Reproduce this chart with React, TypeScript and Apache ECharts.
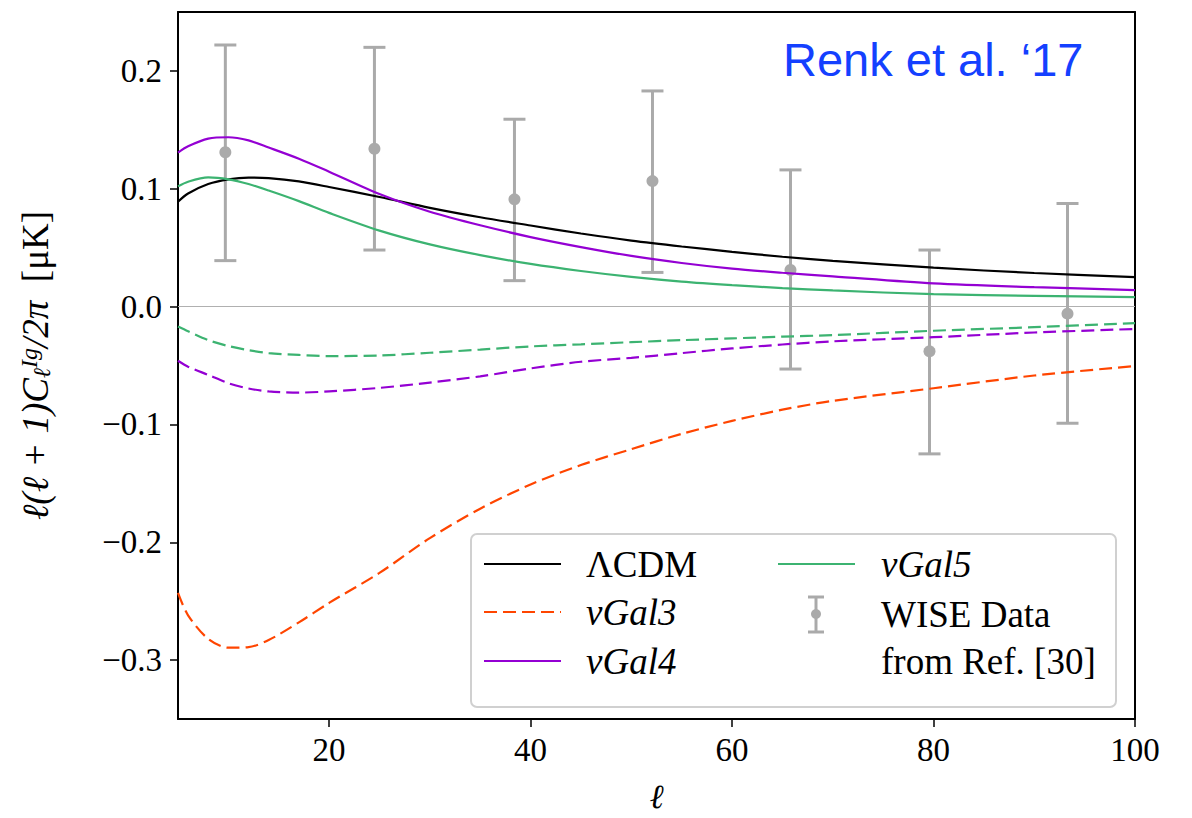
import React, { useEffect, useRef } from "react";
import * as echarts from "echarts";

// multipole grid for the theory curves
const ell = [5, 6, 8, 10, 12, 14, 17, 20, 25, 30, 35, 40, 45, 50, 55, 60, 65, 70, 80, 90, 100];

const lcdm = [0.089, 0.096, 0.104, 0.108, 0.1095, 0.109, 0.1062, 0.1015, 0.093, 0.0838, 0.0758, 0.0688, 0.062, 0.056, 0.051, 0.0465, 0.0423, 0.0388, 0.033, 0.0285, 0.025];
const gal3 = [-0.243, -0.262, -0.282, -0.2895, -0.289, -0.283, -0.268, -0.2515, -0.226, -0.1965, -0.1715, -0.151, -0.1345, -0.121, -0.108, -0.097, -0.0875, -0.08, -0.0693, -0.0585, -0.0505];
const gal4 = [0.1307, 0.136, 0.1425, 0.1437, 0.141, 0.135, 0.1255, 0.1145, 0.0955, 0.0805, 0.069, 0.059, 0.0505, 0.043, 0.037, 0.0322, 0.0287, 0.0257, 0.0197, 0.0165, 0.014];
const gal4Dashed = [-0.046, -0.051, -0.058, -0.065, -0.0695, -0.072, -0.073, -0.072, -0.069, -0.0645, -0.0592, -0.0525, -0.0468, -0.0435, -0.0395, -0.0355, -0.0322, -0.0295, -0.026, -0.022, -0.019];
const gal5 = [0.102, 0.106, 0.1096, 0.108, 0.104, 0.0985, 0.0895, 0.0795, 0.0645, 0.0528, 0.0437, 0.0362, 0.0302, 0.0252, 0.0212, 0.0182, 0.0157, 0.0137, 0.0105, 0.0091, 0.008];
const gal5Dashed = [-0.017, -0.021, -0.0285, -0.0335, -0.037, -0.0395, -0.041, -0.042, -0.0415, -0.0392, -0.0365, -0.0338, -0.032, -0.0302, -0.0285, -0.027, -0.0255, -0.0242, -0.0205, -0.0175, -0.014];

// WISE data points
const wiseEll = [9.7, 24.5, 38.4, 52.1, 65.8, 79.6, 93.3];
const wiseVal = [0.131, 0.134, 0.091, 0.1065, 0.031, -0.038, -0.006];
const wiseLow = [0.039, 0.048, 0.022, 0.029, -0.053, -0.125, -0.099];
const wiseHigh = [0.222, 0.22, 0.159, 0.183, 0.116, 0.048, 0.0875];

const xTicks = [20, 40, 60, 80, 100];
const yTicks = [-0.3, -0.2, -0.1, 0.0, 0.1, 0.2];

const BLACK = "#000000";
const ORANGE = "#ff4500";
const PURPLE = "#9400d3";
const GREEN = "#3cb371";
const GREY = "#aaaaaa";
const SERIF = "'Liberation Serif', 'DejaVu Serif', serif";

const pairs = (ys: number[]) => ell.map((l, i) => [l, ys[i]]);

export default function App() {
  const ref = useRef<HTMLDivElement>(null);
  useEffect(() => {
    if (!ref.current) return;
    const chart = echarts.init(ref.current, null, { renderer: "svg" });
    const lineSeries = (name: string, ys: number[], color: string, dashed: boolean) => ({
      type: "line",
      name,
      data: pairs(ys),
      showSymbol: false,
      symbol: "none",
      smooth: 0.3,
      clip: true,
      lineStyle: { color, width: 2.2, type: dashed ? [13, 6] : "solid" },
      z: 3,
    });
    const fmtY = (v: number) => {
      const s = Math.abs(v).toFixed(1);
      return v < -1e-9 ? "\u2212" + s : s;
    };
    const option: any = {
      animation: false,
      backgroundColor: "#ffffff",
      grid: { left: 178, top: 12, right: 57, bottom: 95, containLabel: false },
      xAxis: [
        {
          type: "value",
          min: 5,
          max: 100,
          name: "ℓ",
          nameLocation: "middle",
          nameGap: 60,
          nameTextStyle: { fontFamily: SERIF, fontStyle: "italic", fontSize: 34, color: "#000" },
          axisLine: { show: true, onZero: false, lineStyle: { color: "#000", width: 2 } },
          axisTick: { show: true, inside: false, length: 8, customValues: xTicks, lineStyle: { color: "#000", width: 1.5 } },
          axisLabel: { customValues: xTicks, margin: 14, fontFamily: SERIF, fontSize: 33, color: "#000" },
          splitLine: { show: false },
        },
        {
          type: "value",
          min: 5,
          max: 100,
          position: "top",
          axisLine: { show: true, onZero: false, lineStyle: { color: "#000", width: 2 } },
          axisTick: { show: false },
          axisLabel: { show: false },
          splitLine: { show: false },
        },
      ],
      yAxis: [
        {
          type: "value",
          min: -0.35,
          max: 0.25,
          name: "{t|ℓ(ℓ + 1)C}{sub|ℓ}{sup|Ig}{t|/2π}{r|  [μK]}",
          nameLocation: "middle",
          nameRotate: 90,
          nameGap: 124,
          nameTextStyle: {
            color: "#000",
            fontSize: 36,
            fontFamily: SERIF,
            rich: {
              t: { fontFamily: SERIF, fontStyle: "italic", fontSize: 37, color: "#000" },
              r: { fontFamily: SERIF, fontSize: 37, color: "#000" },
              sub: { fontFamily: SERIF, fontStyle: "italic", fontSize: 24, verticalAlign: "bottom", color: "#000" },
              sup: { fontFamily: SERIF, fontStyle: "italic", fontSize: 24, verticalAlign: "top", color: "#000" },
            },
          },
          axisLine: { show: true, onZero: false, lineStyle: { color: "#000", width: 2 } },
          axisTick: { show: true, inside: false, length: 8, customValues: yTicks, lineStyle: { color: "#000", width: 1.5 } },
          axisLabel: { customValues: yTicks, margin: 16, fontFamily: SERIF, fontSize: 33, color: "#000", formatter: fmtY },
          splitLine: { show: false },
        },
        {
          type: "value",
          min: -0.35,
          max: 0.25,
          position: "right",
          axisLine: { show: true, onZero: false, lineStyle: { color: "#000", width: 2 } },
          axisTick: { show: false },
          axisLabel: { show: false },
          splitLine: { show: false },
        },
      ],
      series: [
        {
          ...lineSeries("ΛCDM", lcdm, BLACK, false),
          markLine: {
            silent: true,
            symbol: "none",
            label: { show: false },
            lineStyle: { color: "#b0b0b0", width: 1.2, type: "solid" },
            data: [{ yAxis: 0 }],
            z: 1,
          },
        },
        lineSeries("νGal3", gal3, ORANGE, true),
        lineSeries("νGal4", gal4, PURPLE, false),
        lineSeries("νGal4 dashed", gal4Dashed, PURPLE, true),
        lineSeries("νGal5", gal5, GREEN, false),
        lineSeries("νGal5 dashed", gal5Dashed, GREEN, true),
        {
          type: "custom",
          name: "WISE Data",
          data: wiseEll.map((l, i) => [l, wiseVal[i], wiseLow[i], wiseHigh[i]]),
          encode: { x: 0, y: [1, 2, 3] },
          z: 2,
          renderItem: (params: any, api: any) => {
            const c = api.coord([api.value(0), api.value(1)]);
            const lo = api.coord([api.value(0), api.value(2)]);
            const hi = api.coord([api.value(0), api.value(3)]);
            const cap = 11;
            const st = { stroke: GREY, lineWidth: 3 };
            return {
              type: "group",
              children: [
                { type: "line", shape: { x1: c[0], y1: hi[1], x2: c[0], y2: lo[1] }, style: st },
                { type: "line", shape: { x1: c[0] - cap, y1: hi[1], x2: c[0] + cap, y2: hi[1] }, style: st },
                { type: "line", shape: { x1: c[0] - cap, y1: lo[1], x2: c[0] + cap, y2: lo[1] }, style: st },
                { type: "circle", shape: { cx: c[0], cy: c[1], r: 6 }, style: { fill: GREY } },
              ],
            };
          },
        },
      ],
      graphic: [
        {
          type: "text",
          left: 783,
          top: 36,
          style: {
            text: "Renk et al. \u201817",
            fill: "#1440ff",
            font: "47px 'Liberation Sans', Arial, Helvetica, sans-serif",
          },
          z: 10,
        },
        {
          type: "group",
          left: 470,
          top: 533,
          z: 10,
          children: [
            { type: "rect", shape: { x: 0, y: 0, width: 645, height: 173, r: 6 }, style: { fill: "rgba(255,255,255,0.85)", stroke: "#d0d0d0", lineWidth: 2 } },
            { type: "line", shape: { x1: 13, y1: 30, x2: 90, y2: 30 }, style: { stroke: BLACK, lineWidth: 2 } },
            { type: "line", shape: { x1: 13, y1: 78, x2: 90, y2: 78 }, style: { stroke: ORANGE, lineWidth: 2, lineDash: [13, 6] } },
            { type: "line", shape: { x1: 13, y1: 127, x2: 90, y2: 127 }, style: { stroke: PURPLE, lineWidth: 2 } },
            { type: "line", shape: { x1: 307, y1: 30, x2: 384, y2: 30 }, style: { stroke: GREEN, lineWidth: 2 } },
            { type: "line", shape: { x1: 345, y1: 63, x2: 345, y2: 98 }, style: { stroke: GREY, lineWidth: 3 } },
            { type: "line", shape: { x1: 337, y1: 63, x2: 353, y2: 63 }, style: { stroke: GREY, lineWidth: 3 } },
            { type: "line", shape: { x1: 337, y1: 98, x2: 353, y2: 98 }, style: { stroke: GREY, lineWidth: 3 } },
            { type: "circle", shape: { cx: 345, cy: 80, r: 5 }, style: { fill: GREY } },
            { type: "text", x: 115, y: 30, style: { text: "ΛCDM", font: `37px ${SERIF}`, fill: "#000", verticalAlign: "middle" } },
            { type: "text", x: 115, y: 78, style: { text: "νGal3", font: `italic 37px ${SERIF}`, fill: "#000", verticalAlign: "middle" } },
            { type: "text", x: 115, y: 127, style: { text: "νGal4", font: `italic 37px ${SERIF}`, fill: "#000", verticalAlign: "middle" } },
            { type: "text", x: 410, y: 30, style: { text: "νGal5", font: `italic 37px ${SERIF}`, fill: "#000", verticalAlign: "middle" } },
            { type: "text", x: 410, y: 80, style: { text: "WISE Data", font: `37px ${SERIF}`, fill: "#000", verticalAlign: "middle" } },
            { type: "text", x: 410, y: 127, style: { text: "from Ref. [30]", font: `37px ${SERIF}`, fill: "#000", verticalAlign: "middle" } },
          ],
        },
      ],
    };
    chart.setOption(option);
    return () => chart.dispose();
  }, []);
  return (
    <div
      ref={ref}
      style={{ position: "fixed", left: 0, top: 0, width: 1192, height: 818, background: "#fff" }}
    />
  );
}
